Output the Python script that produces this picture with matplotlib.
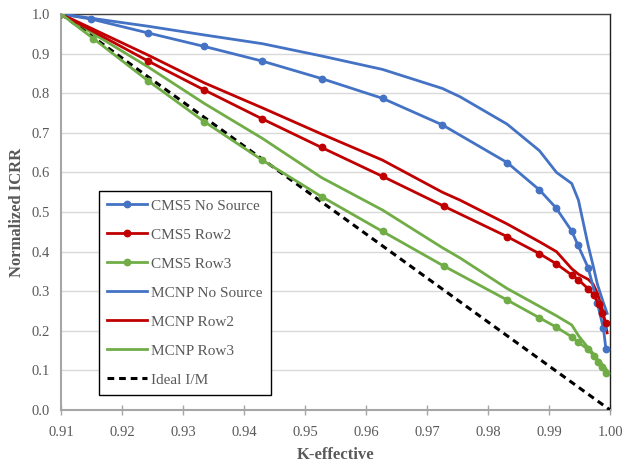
import matplotlib
matplotlib.use('Agg')
import matplotlib.pyplot as plt

plt.rcParams['font.family'] = ['Liberation Serif', 'DejaVu Serif']

# CMS5 results (with markers)
cms_nosrc_k = [0.91, 0.915, 0.9243, 0.9335, 0.943, 0.9527, 0.9627, 0.9725, 0.9831, 0.9884,
               0.9911, 0.9937, 0.9947, 0.9964, 0.9979, 0.9989, 0.9993]
cms_nosrc_icrr = [1.0, 0.987, 0.952, 0.918, 0.881, 0.837, 0.787, 0.720, 0.625, 0.556,
                  0.511, 0.452, 0.417, 0.359, 0.270, 0.206, 0.154]

cms_row2_k = [0.91, 0.9243, 0.9335, 0.943, 0.9527, 0.9627, 0.9727, 0.9831, 0.9884, 0.9911,
              0.9937, 0.9948, 0.9964, 0.9973, 0.9981, 0.9987, 0.9993]
cms_row2_icrr = [1.0, 0.881, 0.808, 0.735, 0.663, 0.590, 0.515, 0.438, 0.395, 0.370,
                 0.341, 0.329, 0.306, 0.291, 0.268, 0.244, 0.219]

cms_row3_k = [0.91, 0.9153, 0.9243, 0.9335, 0.943, 0.9527, 0.9627, 0.9727, 0.9831, 0.9884,
              0.9911, 0.9937, 0.9948, 0.9964, 0.9973, 0.9980, 0.9986, 0.9993]
cms_row3_icrr = [1.0, 0.938, 0.831, 0.728, 0.631, 0.539, 0.451, 0.364, 0.278, 0.233,
                 0.210, 0.185, 0.171, 0.153, 0.137, 0.122, 0.109, 0.093]

# MCNP results (lines only)
mcnp_k = [0.91, 0.9243, 0.9335, 0.943, 0.9527, 0.9627, 0.9725, 0.9754, 0.9831, 0.9884,
          0.9912, 0.9937, 0.9948, 0.9964, 0.9972, 0.9979, 0.9988, 0.9995]
mcnp_nosrc = [1.0, 0.969, 0.947, 0.925, 0.894, 0.860, 0.812, 0.791, 0.722, 0.655,
              0.600, 0.572, 0.530, 0.415, 0.365, 0.318, 0.275, 0.244]
mcnp_row2 = [1.0, 0.896, 0.826, 0.763, 0.697, 0.631, 0.550, 0.530, 0.470, 0.425,
             0.400, 0.357, 0.343, 0.330, 0.318, 0.295, 0.250, 0.195]
mcnp_row3 = [1.0, 0.866, 0.774, 0.686, 0.587, 0.505, 0.410, 0.384, 0.307, 0.262,
             0.238, 0.215, 0.188, 0.157, 0.143, 0.128, 0.114, 0.100]

ideal_k = [0.91, 1.0]
ideal_icrr = [1.0, 0.0]

blue = '#4472C4'
red = '#C00000'
green = '#70AD47'
grey_txt = '#595959'

fig, ax = plt.subplots(figsize=(6.22, 4.66), dpi=100)
fig.subplots_adjust(left=0.098, right=0.981, bottom=0.120, top=0.970)

lw = 2.0
ax.plot(cms_nosrc_k, cms_nosrc_icrr, color=blue, lw=lw, marker='o', ms=4.6, label='CMS5 No Source', zorder=4)
ax.plot(cms_row2_k, cms_row2_icrr, color=red, lw=lw, marker='o', ms=4.6, label='CMS5 Row2', zorder=4)
ax.plot(cms_row3_k, cms_row3_icrr, color=green, lw=lw, marker='o', ms=4.6, label='CMS5 Row3', zorder=4)
ax.plot(mcnp_k, mcnp_nosrc, color=blue, lw=lw, label='MCNP No Source', zorder=3)
ax.plot(mcnp_k, mcnp_row2, color=red, lw=lw, label='MCNP Row2', zorder=3)
ax.plot(mcnp_k, mcnp_row3, color=green, lw=lw, label='MCNP Row3', zorder=3)
ax.plot(ideal_k, ideal_icrr, color='black', lw=2.2, ls=(0, (2.2, 1.6)), label='Ideal I/M', zorder=3)

ax.set_xlim(0.91, 1.0)
ax.set_ylim(0.0, 1.0)
ax.set_xticks([0.91 + 0.01 * i for i in range(10)])
ax.set_yticks([0.1 * i for i in range(11)])
ax.xaxis.set_major_formatter(matplotlib.ticker.FormatStrFormatter('%.2f'))
ax.yaxis.set_major_formatter(matplotlib.ticker.FormatStrFormatter('%.1f'))

ax.grid(axis='y', color='#D9D9D9', lw=1.0, zorder=0)
ax.set_axisbelow(True)

ax.tick_params(axis='x', direction='inout', length=7, width=1, color='#A6A6A6',
               labelcolor=grey_txt, labelsize=10.5, pad=8)
ax.tick_params(axis='y', length=0, labelcolor=grey_txt, labelsize=10.5, pad=8)

for side in ['left', 'bottom']:
    ax.spines[side].set_color('#A6A6A6')
    ax.spines[side].set_linewidth(1.5)
ax.spines['top'].set_color('#404040')
ax.spines['right'].set_color('#202020')
ax.spines['top'].set_linewidth(1.0)
ax.spines['right'].set_linewidth(1.0)

ax.set_xlabel('K-effective', fontsize=12, fontweight='bold', color=grey_txt, labelpad=6)
ax.set_ylabel('Normalized ICRR', fontsize=12, fontweight='bold', color=grey_txt, labelpad=5)

leg = ax.legend(loc='lower left', bbox_to_anchor=(0.069, 0.038), fontsize=11,
                frameon=True, fancybox=False, edgecolor='black', framealpha=1,
                handlelength=2.6, handletextpad=0.25, labelspacing=1.0,
                borderpad=0.55, borderaxespad=0)
leg.get_frame().set_linewidth(1.0)
for t in leg.get_texts():
    t.set_color(grey_txt)

fig.savefig('out.png', dpi=100)
